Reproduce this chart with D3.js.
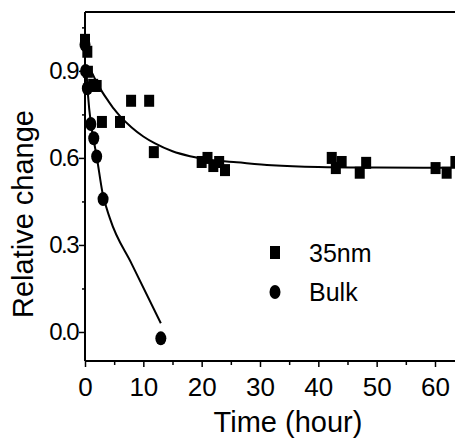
<!DOCTYPE html>
<html>
<head>
<meta charset="utf-8">
<script src="https://cdn.jsdelivr.net/npm/d3@7.8.5/dist/d3.min.js"></script>
<style>
  body { margin: 0; background: #fff; }
  svg { display: block; font-family: "Liberation Sans", Arial, sans-serif; }
</style>
</head>
<body>
<svg width="455" height="438"></svg>
<script>
// 35nm film: measured points (time in hours, relative change)
const nmTime = [0, 0.4, 0.5, 1.4, 2.0, 2.9, 6, 7.9, 11, 11.8, 20, 21, 22, 23, 24, 42.3, 43, 44, 47.1, 48.2, 60.1, 62, 63.5];
const nmValue = [1.007, 0.966, 0.897, 0.852, 0.848, 0.724, 0.724, 0.797, 0.797, 0.62, 0.586, 0.6, 0.572, 0.586, 0.558, 0.6, 0.565, 0.586, 0.549, 0.583, 0.565, 0.549, 0.586];

// bulk: measured points
const bulkTime = [0, 0.1, 0.4, 1.0, 1.5, 2.0, 3.1, 13.0];
const bulkValue = [0.99, 0.9, 0.84, 0.717, 0.668, 0.605, 0.458, -0.022];

// fitted curves
const nmFitTime = [0.5, 1, 2, 3, 4, 5, 6, 8, 10, 12, 15, 18, 22, 26, 32, 40, 50, 64];
const nmFitValue = [0.915, 0.9, 0.861, 0.826, 0.796, 0.768, 0.744, 0.705, 0.674, 0.65, 0.623, 0.606, 0.592, 0.585, 0.575, 0.569, 0.567, 0.566];
const bulkFitTime = [0.3, 0.5, 1, 1.5, 2, 3, 4.3, 8, 13];
const bulkFitValue = [0.88, 0.82, 0.72, 0.66, 0.605, 0.48, 0.39, 0.235, 0.03];

const xTicks = [0, 10, 20, 30, 40, 50, 60];
const xMinor = [5, 15, 25, 35, 45, 55];
const yTicks = [0, 0.3, 0.6, 0.9];
const yMinor = [0.15, 0.45, 0.75, 1.05];

const legendLabels = ["35nm", "Bulk"];

const svg = d3.select("svg");
const plotLeft = 85, plotRight = 455, plotTop = 12, plotBottom = 361;

const x = d3.scaleLinear().domain([0, 63.43]).range([plotLeft, plotRight]);
const y = d3.scaleLinear().domain([-0.1, 1.103]).range([plotBottom, plotTop]);

// axes
const xAxis = svg.append("g")
  .attr("transform", `translate(0,${plotBottom})`)
  .call(d3.axisBottom(x).tickValues(xTicks).tickSize(6).tickPadding(11).tickFormat(d3.format("d")));
const xMinorAxis = svg.append("g")
  .attr("transform", `translate(0,${plotBottom})`)
  .call(d3.axisBottom(x).tickValues(xMinor).tickSize(4).tickFormat(""));

const yAxis = svg.append("g")
  .attr("transform", `translate(${plotLeft},0)`)
  .call(d3.axisLeft(y).tickValues(yTicks).tickSize(6).tickPadding(1).tickFormat(d3.format(".1f")));
const yMinorAxis = svg.append("g")
  .attr("transform", `translate(${plotLeft},0)`)
  .call(d3.axisLeft(y).tickValues(yMinor).tickSize(3).tickFormat(""));

svg.selectAll(".domain").remove();
svg.selectAll(".tick line").attr("stroke", "#000").attr("stroke-width", 1.5);

svg.append("line").attr("x1", plotLeft).attr("x2", plotRight).attr("y1", plotBottom).attr("y2", plotBottom)
  .attr("stroke", "#000").attr("stroke-width", 2);
svg.append("line").attr("x1", plotLeft).attr("x2", plotLeft).attr("y1", plotTop).attr("y2", plotBottom)
  .attr("stroke", "#000").attr("stroke-width", 2);
svg.append("line").attr("x1", plotLeft).attr("x2", plotRight).attr("y1", plotTop).attr("y2", plotTop)
  .attr("stroke", "#000").attr("stroke-width", 2);

xAxis.selectAll("text").attr("font-size", 26).attr("fill", "#000").attr("font-family", "Liberation Sans, Arial, sans-serif");
yAxis.selectAll("text").attr("font-size", 24).attr("fill", "#000").attr("letter-spacing", -1.5)
  .attr("font-family", "Liberation Sans, Arial, sans-serif");

// titles
svg.append("text")
  .attr("x", 288).attr("y", 432)
  .attr("text-anchor", "middle")
  .attr("font-size", 29)
  .text("Time (hour)");
svg.append("text")
  .attr("transform", "translate(33,214) rotate(-90)")
  .attr("text-anchor", "middle")
  .attr("font-size", 29)
  .text("Relative change");

// fit curves
const line = d3.line().x(d => x(d[0])).y(d => y(d[1])).curve(d3.curveMonotoneX);
svg.append("path")
  .attr("d", line(d3.zip(nmFitTime, nmFitValue)))
  .attr("fill", "none").attr("stroke", "#000").attr("stroke-width", 2);
svg.append("path")
  .attr("d", line(d3.zip(bulkFitTime, bulkFitValue)))
  .attr("fill", "none").attr("stroke", "#000").attr("stroke-width", 2);

// markers
const sqW = 10, sqH = 12;
svg.append("g").selectAll("rect")
  .data(d3.zip(nmTime, nmValue))
  .join("rect")
  .attr("x", d => x(d[0]) - sqW / 2)
  .attr("y", d => y(d[1]) - sqH / 2)
  .attr("width", sqW).attr("height", sqH)
  .attr("fill", "#000");

svg.append("g").selectAll("ellipse")
  .data(d3.zip(bulkTime, bulkValue))
  .join("ellipse")
  .attr("cx", d => x(d[0]))
  .attr("cy", d => y(d[1]))
  .attr("rx", 5.5).attr("ry", 7)
  .attr("fill", "#000");

// legend
const legend = svg.append("g");
legend.append("rect")
  .attr("x", 270).attr("y", 246).attr("width", 10).attr("height", 13)
  .attr("fill", "#000");
legend.append("ellipse")
  .attr("cx", 275).attr("cy", 292).attr("rx", 5.5).attr("ry", 7)
  .attr("fill", "#000");
legend.selectAll("text")
  .data(legendLabels)
  .join("text")
  .attr("x", 309)
  .attr("y", (d, i) => 262 + i * 39)
  .attr("font-size", 25)
  .text(d => d);
</script>
</body>
</html>
